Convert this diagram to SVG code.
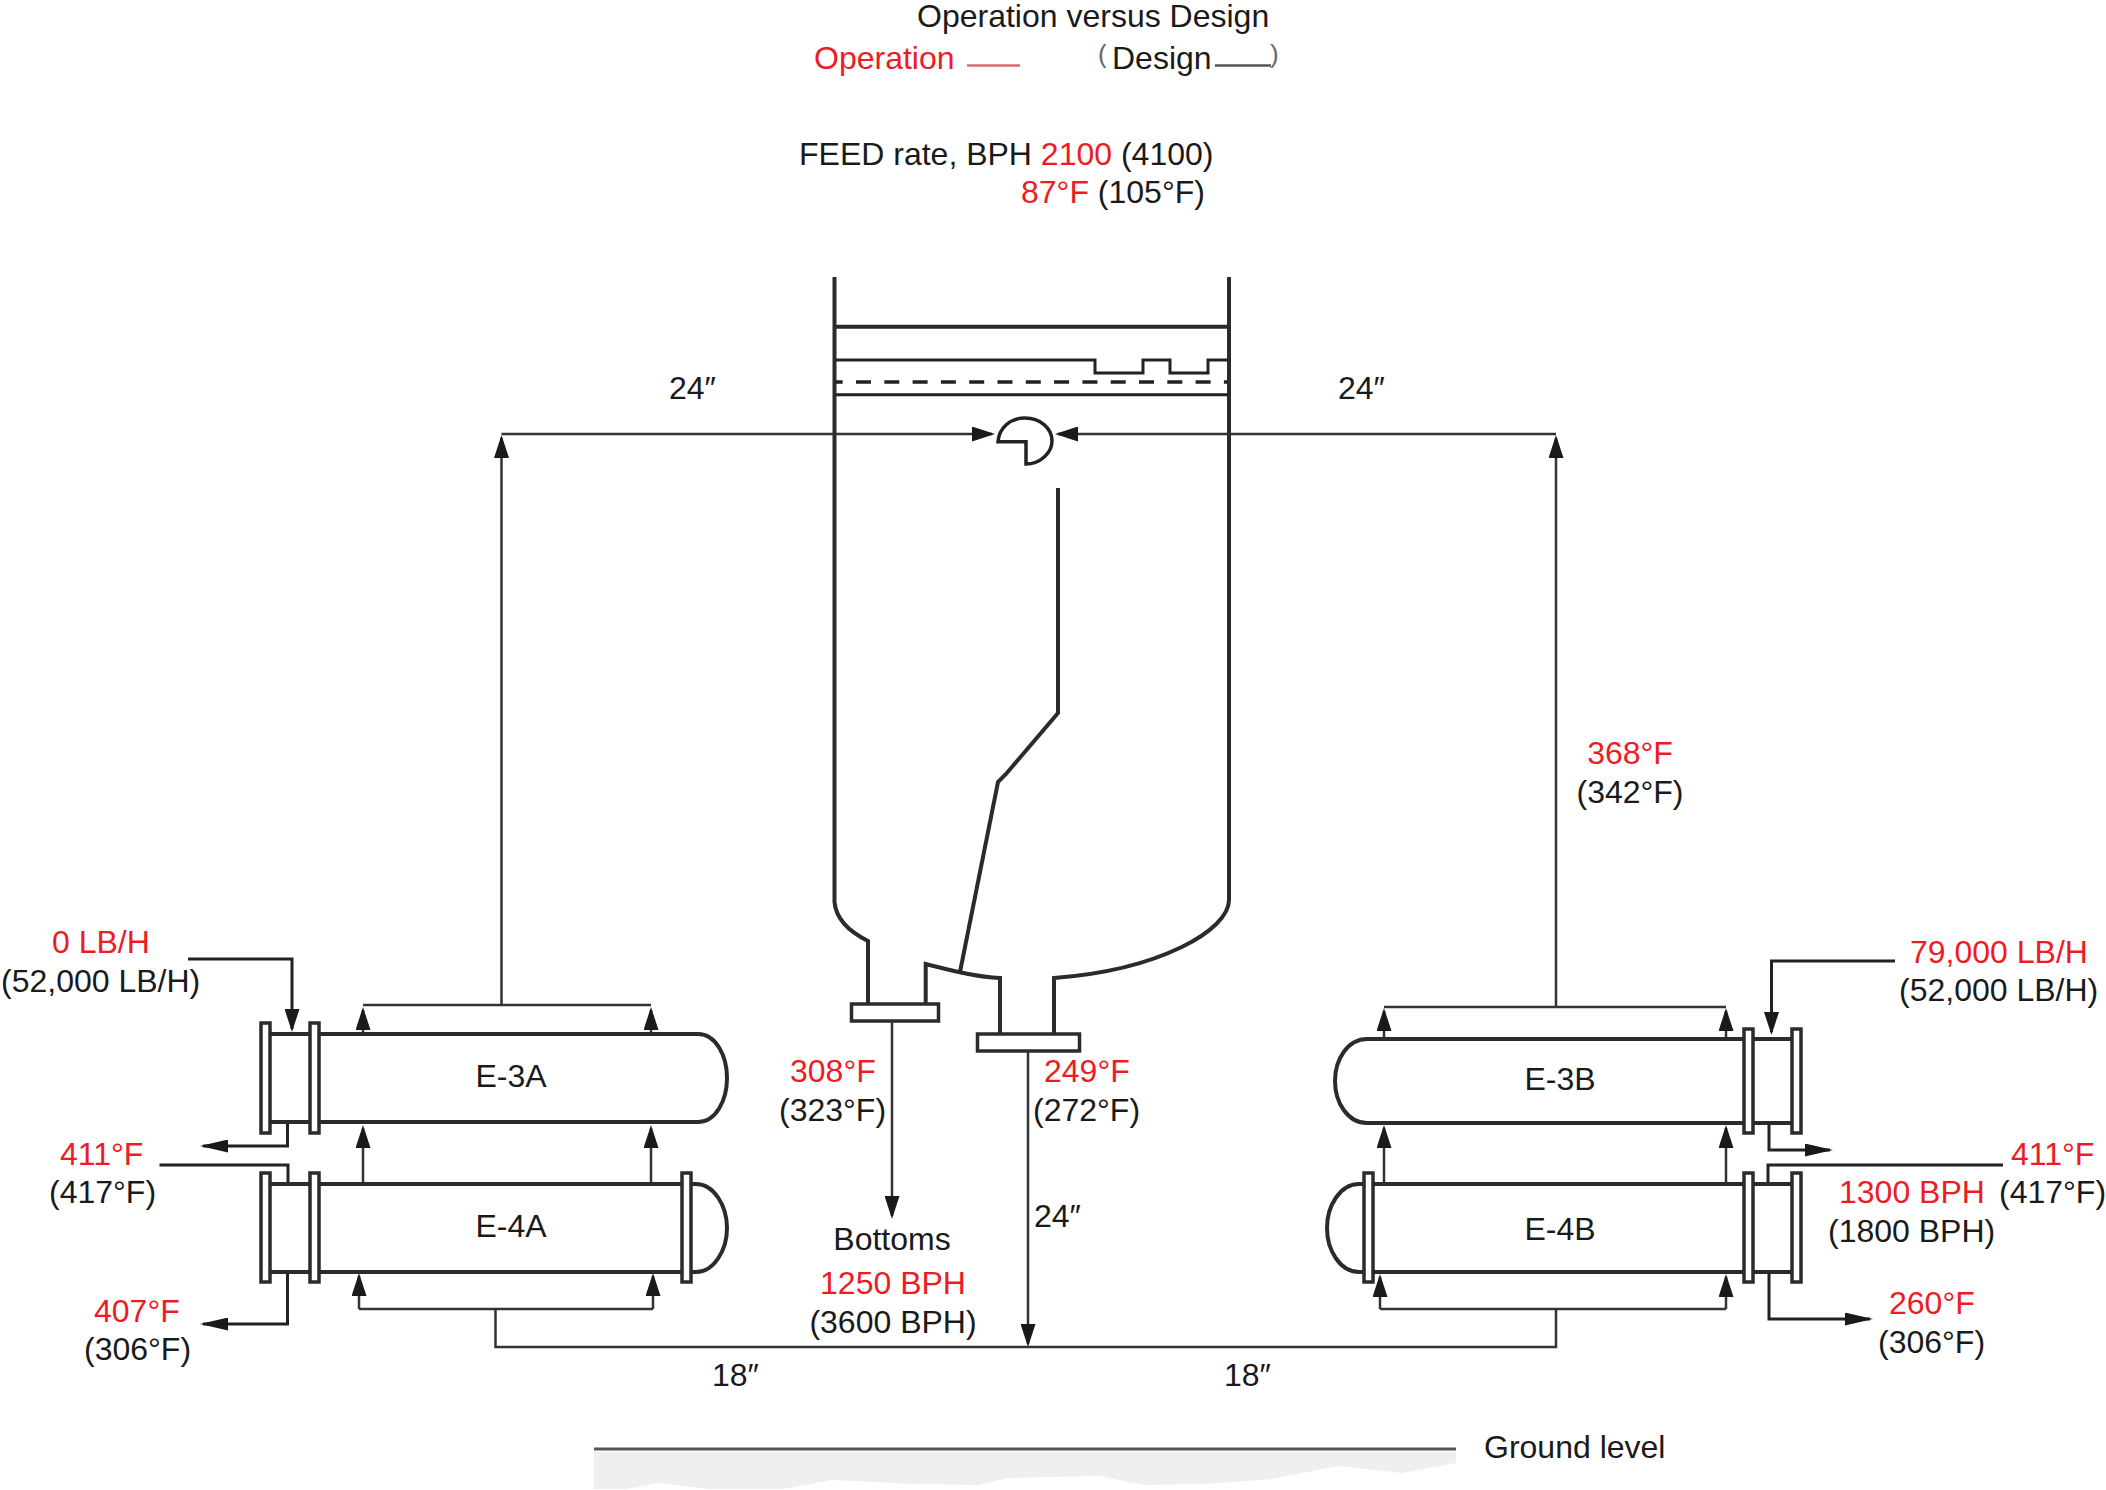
<svg xmlns="http://www.w3.org/2000/svg" width="2106" height="1490" viewBox="0 0 2106 1490">
<style>
text{font-family:"Liberation Sans",Arial,sans-serif;font-size:32px;fill:#1a1a1a}
.r{fill:#ed1c24}
.m{text-anchor:middle}
.p{font-size:26px;fill:#666}
.v{fill:none;stroke:#2b2b2b;stroke-width:4}
.f{fill:#fff;stroke:#2b2b2b;stroke-width:3.5}
.c{fill:none;stroke:#333;stroke-width:2.5}
.t{fill:none;stroke:#222;stroke-width:3}
.h{fill:none;stroke:#222;stroke-width:3}
.a{marker-end:url(#ah)}
.b{marker-end:url(#ab)}
</style>
<defs>
<marker id="ah" markerUnits="userSpaceOnUse" viewBox="0 0 23 15" refX="20" refY="7.5" markerWidth="23" markerHeight="15" orient="auto"><path d="M0 0L23 7.5L0 15Z" fill="#1a1a1a"/></marker>
<marker id="ab" markerUnits="userSpaceOnUse" viewBox="0 0 28 13" refX="25" refY="6.5" markerWidth="28" markerHeight="13" orient="auto"><path d="M0 0L28 6.5L0 13Z" fill="#1a1a1a"/></marker>
</defs>
<rect width="2106" height="1490" fill="#fff"/>

<g id="legend">
<text x="917" y="27">Operation versus Design</text>
<text class="r" x="814" y="69">Operation</text>
<path d="M967 65.5H1020" fill="none" stroke="#dc6a72" stroke-width="2.5"/>
<text class="p" x="1098" y="63">(</text>
<text x="1112" y="69">Design</text>
<path d="M1215 65.5H1271" fill="none" stroke="#555" stroke-width="2.5"/>
<text class="p" x="1270" y="63">)</text>
<text x="799" y="164.500">FEED rate, BPH <tspan class="r">2100</tspan> (4100)</text>
<text x="1021" y="203"><tspan class="r">87°F</tspan> (105°F)</text>
</g>

<g id="ground">
<path d="M594 1452H1456V1463L1402 1473L1338 1466L1272 1479L1206 1484L1143 1485L1099 1476L1008 1478L978 1485L912 1484L831 1480L784 1489L710 1489L659 1483L626 1489L594 1489Z" fill="#eeeff0"/>
<path d="M594 1449H1456" fill="none" stroke="#555" stroke-width="3"/>
<text x="1484" y="1458">Ground level</text>
</g>

<g id="column">
<path class="v" d="M834.5 277V902C836 920 850 932 868 941V1004"/>
<path class="v" d="M1229 277V900C1229 930 1160 970 1054 978V1034"/>
<path class="v" d="M925.7 1004V964C950 970 975 977 1000 978V1034"/>
<path class="v" d="M836 326.700H1228"/>
<path class="h" d="M836 360H1095V373H1143V360H1170V373H1208V360H1228"/>
<path class="h" style="stroke-width:3.5" stroke-dasharray="15 13.3" stroke-dashoffset="8.300" d="M836 382H1228"/>
<path class="h" d="M836 394.700H1228"/>
<path class="v" d="M1058 488V713L1006 774L998 782L960 972"/>
<rect class="f" x="851.5" y="1004" width="87" height="17"/>
<rect class="f" x="977.5" y="1034" width="102" height="17"/>
<path id="inlet-distributor" class="h" style="stroke-width:3.5" d="M998 441.700H1026V464C1040 464 1052 453 1052 441C1052 428 1040 418 1025 418C1010 418 999 428 998 441.700Z"/>
</g>

<g id="connectors">
<path class="c a" d="M501.500 1005V438"/>
<path class="c a" d="M501.500 434H992"/>
<path class="c a" d="M1556 1007V438"/>
<path class="c a" d="M1556 434H1058"/>
<path class="c a" d="M892 1021V1216"/>
<path class="c a" d="M1028 1051V1344"/>
<path class="c" d="M495.500 1309V1347H1556V1309"/>
<path class="c a" d="M363 1034V1010"/>
<path class="c a" d="M651 1034V1010"/>
<path class="c" d="M363 1005H651"/>
<path class="c a" d="M363 1184V1128"/>
<path class="c a" d="M651 1184V1128"/>
<path class="c a" d="M359 1309V1276"/>
<path class="c a" d="M653 1309V1276"/>
<path class="c" d="M359 1309H653"/>
<path class="t a" d="M188 959H292V1029"/>
<path class="t b" d="M287.500 1123V1146H203"/>
<path class="t" d="M159.500 1165H288V1184"/>
<path class="t b" d="M287.500 1273V1324H203"/>
<path class="c a" d="M1384 1039V1011"/>
<path class="c a" d="M1726 1039V1011"/>
<path class="c" d="M1384 1007H1726"/>
<path class="c a" d="M1384 1184V1128"/>
<path class="c a" d="M1726 1184V1128"/>
<path class="c a" d="M1380 1309V1277"/>
<path class="c a" d="M1726 1309V1277"/>
<path class="c" d="M1380 1309H1726"/>
<path class="t a" d="M1895 961H1771.500V1032"/>
<path class="t b" d="M1769 1124V1150H1830"/>
<path class="t" d="M2003 1165H1768V1184"/>
<path class="t b" d="M1769 1273V1319H1870"/>
</g>

<g id="E-3A">
<path class="v" d="M268 1034H698C716 1034 727 1056 727 1078C727 1100 716 1122 698 1122H268"/>
<rect class="f" x="261" y="1023" width="9" height="110"/>
<rect class="f" x="310" y="1023" width="9" height="110"/>
<text class="m" x="511" y="1087">E-3A</text>
</g>
<g id="E-4A">
<path class="v" d="M268 1184H696C714 1184 727 1206 727 1228C727 1250 714 1272 696 1272H268"/>
<rect class="f" x="261" y="1173" width="9" height="109"/>
<rect class="f" x="310" y="1173" width="9" height="109"/>
<rect class="f" x="682" y="1173" width="9" height="109"/>
<text class="m" x="511" y="1237">E-4A</text>
</g>
<g id="E-3B">
<path class="v" d="M1794 1039H1367C1348 1039 1335 1059 1335 1081C1335 1103 1348 1123 1367 1123H1794"/>
<rect class="f" x="1744" y="1029" width="9" height="104"/>
<rect class="f" x="1792" y="1029" width="9" height="104"/>
<text class="m" x="1560" y="1090">E-3B</text>
</g>
<g id="E-4B">
<path class="v" d="M1794 1184H1359C1340 1184 1327 1206 1327 1228C1327 1250 1340 1272 1359 1272H1794"/>
<rect class="f" x="1364" y="1173" width="9" height="109"/>
<rect class="f" x="1744" y="1173" width="9" height="109"/>
<rect class="f" x="1792" y="1173" width="9" height="109"/>
<text class="m" x="1560" y="1240">E-4B</text>
</g>

<g id="labels">
<text x="669" y="399">24″</text>
<text x="1338" y="399">24″</text>
<text class="r m" x="1630" y="764">368°F</text>
<text class="m" x="1630" y="803">(342°F)</text>
<text class="r" x="52" y="953">0 LB/H</text>
<text x="1" y="992">(52,000 LB/H)</text>
<text class="r" x="60" y="1165">411°F</text>
<text x="49" y="1203">(417°F)</text>
<text class="r" x="94" y="1322">407°F</text>
<text x="84" y="1360">(306°F)</text>
<text x="712" y="1386">18″</text>
<text x="1224" y="1386">18″</text>
<text class="r" x="1910" y="963">79,000 LB/H</text>
<text x="1899" y="1001">(52,000 LB/H)</text>
<text class="r" x="2011" y="1165">411°F</text>
<text x="1999" y="1203">(417°F)</text>
<text class="r" x="1839" y="1203">1300 BPH</text>
<text x="1828" y="1242">(1800 BPH)</text>
<text class="r" x="1889" y="1314">260°F</text>
<text x="1878" y="1353">(306°F)</text>
<text class="r" x="790" y="1082">308°F</text>
<text x="779" y="1121">(323°F)</text>
<text class="r" x="1044" y="1082">249°F</text>
<text x="1033" y="1121">(272°F)</text>
<text class="m" x="892" y="1250">Bottoms</text>
<text class="r m" x="893" y="1294">1250 BPH</text>
<text class="m" x="893" y="1333">(3600 BPH)</text>
<text x="1034" y="1227">24″</text>
</g>
</svg>
